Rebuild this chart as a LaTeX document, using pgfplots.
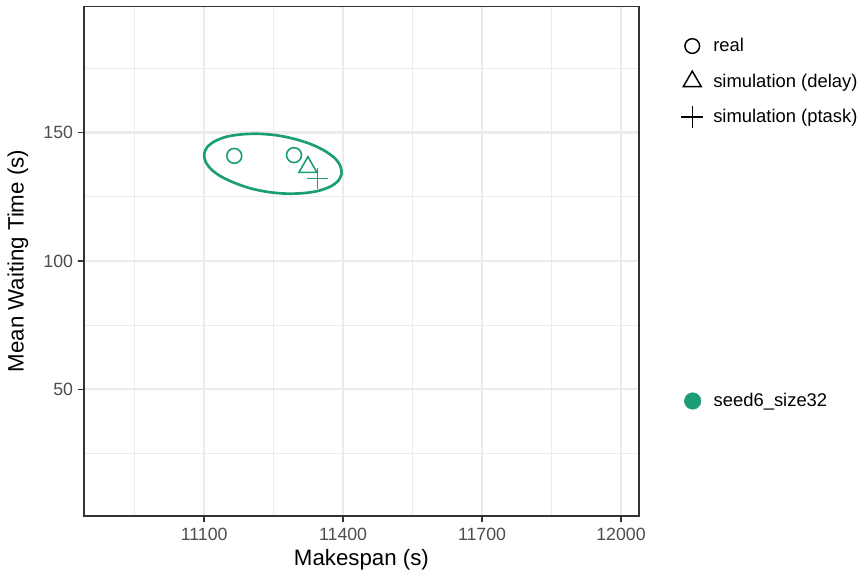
\documentclass[border=0pt]{standalone}
\usepackage{fontspec}
\setmainfont{Liberation Sans}
\usepackage{pgfplots}
\pgfplotsset{compat=1.18}
\definecolor{seedgreen}{HTML}{1B9E77}
\definecolor{gridc}{HTML}{EBEBEB}
\definecolor{axc}{HTML}{333333}
\definecolor{tickc}{HTML}{4D4D4D}

\pgfplotsset{
  keylegend/.style={
    legend cell align=left,
    legend style={draw=none, fill=none, inner sep=0pt, outer sep=0pt,
      row sep=0pt, nodes={inner sep=0pt},
      font=\fontsize{13.8}{16}\selectfont},
    legend image code/.code={%
      \path[draw=none, fill=none] (-8pt,-13.3pt) rectangle (15.75pt,13.3pt);
      \draw[##1] plot coordinates {(0pt,0pt)};}
  }
}

\begin{document}
\begin{tikzpicture}[x=1pt,y=1pt]
\path[use as bounding box] (0,0) rectangle (645,429);

\begin{axis}[
  at={(62.8pt,42.2pt)}, anchor=south west,
  scale only axis, width=416.5pt, height=382pt,
  xmin=10840, xmax=12039, ymin=0.8, ymax=199.1,
  xtick={11100,11400,11700,12000}, ytick={50,100,150},
  minor xtick={10950,11250,11550,11850},
  minor ytick={25,75,125,175},
  xtick pos=bottom, ytick pos=left,
  grid=both,
  major grid style={gridc, line width=1.6pt},
  minor grid style={gridc, line width=0.8pt},
  axis line style={axc, line width=1.3pt},
  tick align=outside, major tick length=4.5pt, minor tick length=0pt,
  major tick style={axc, line width=1.2pt},
  scaled x ticks=false,
  /pgf/number format/assume math mode=true,
  /pgf/number format/1000 sep={},
  tick label style={tickc, font=\fontsize{13.3}{15}\selectfont},
  xticklabel style={yshift=-1pt},
  xlabel={Makespan (s)}, ylabel={Mean Waiting Time (s)},
  label style={font=\fontsize{16.7}{19}\selectfont},
  xlabel style={at={(axis description cs:0.5,-0.087)}, anchor=center},
  ylabel style={at={(axis description cs:-0.1184,0.5)}, anchor=center},
  keylegend,
  legend style={at={(axis description cs:1.0761,0.9570)}, anchor=north west},
]
% confidence ellipse around the seed6_size32 runs
\addplot[seedgreen, line width=2pt, smooth, forget plot] coordinates {
  (11397,134.0) (11390,131.3) (11373,129.0) (11347,127.3) (11315,126.4)
  (11278,126.2) (11240,126.8) (11201,128.2) (11167,130.3) (11137,132.8)
  (11115,135.7) (11103,138.7) (11100,141.7) (11107,144.4) (11124,146.7)
  (11149,148.4) (11182,149.3) (11218,149.5) (11257,148.9) (11295,147.5)
  (11330,145.5) (11360,142.9) (11382,140.0) (11394,137.0) (11397,134.0)
};
% real runs
\addplot[only marks, mark=o, seedgreen, mark size=5.6pt, line width=1.2pt, forget plot]
  coordinates {(11165,140.9) (11294,141.2)};
% simulation (delay)
\addplot[only marks, mark=triangle, seedgreen, mark size=7.8pt, line width=1.2pt, forget plot]
  coordinates {(11324,136.5)};
% simulation (ptask)
\addplot[only marks, mark=+, seedgreen, mark size=7.7pt, line width=1.2pt, forget plot]
  coordinates {(11345,132.1)};

\addlegendimage{only marks, mark=o, black, mark size=5.5pt, line width=1.1pt}
\addlegendentry{real}
\addlegendimage{only marks, mark=triangle, black, mark size=7.8pt, line width=1.1pt}
\addlegendentry{simulation (delay)}
\addlegendimage{only marks, mark=+, black, mark size=8.2pt, line width=1.1pt}
\addlegendentry{simulation (ptask)}
\end{axis}

% colour key
\begin{axis}[
  at={(62.8pt,42.2pt)}, anchor=south west,
  scale only axis, width=416.5pt, height=382pt,
  xmin=0, xmax=1, ymin=0, ymax=1, hide axis,
  keylegend,
  legend style={at={(axis description cs:1.0773,0.2601)}, anchor=north west},
]
\addlegendimage{only marks, mark=*, seedgreen, mark size=6.2pt}
\addlegendentry{seed6\_size32}
\end{axis}
\end{tikzpicture}
\end{document}
